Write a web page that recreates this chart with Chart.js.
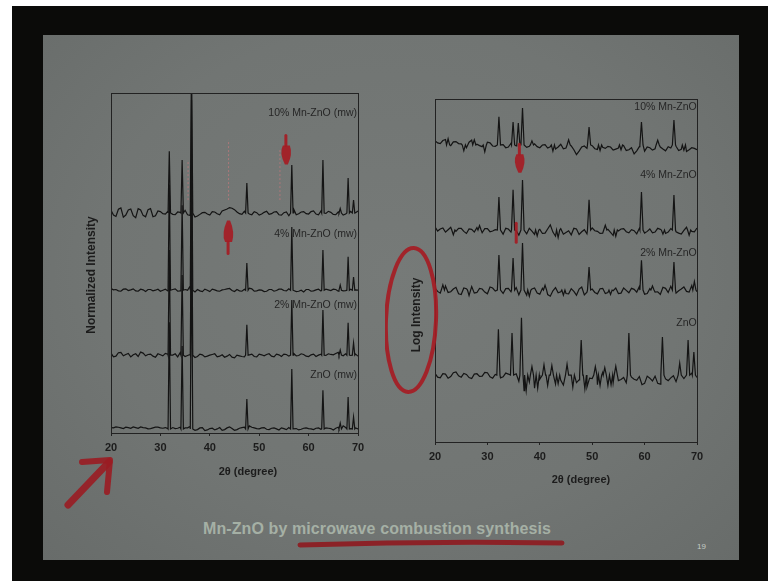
<!DOCTYPE html>
<html><head><meta charset="utf-8">
<script src="https://cdn.jsdelivr.net/npm/chart.js@4.4.1/dist/chart.umd.min.js"></script>
<style>
html,body{margin:0;padding:0;background:#fff;width:768px;height:581px;overflow:hidden;}
#frame{position:absolute;left:12px;top:6px;width:756px;height:575px;background:#0b0b09;}
#slide{position:absolute;left:43px;top:35px;width:696px;height:525px;
  background:radial-gradient(ellipse at 50% 45%, #767a78 0%, #717573 60%, #686c6a 100%);}
#c1{position:absolute;left:60px;top:85px;}
#c2{position:absolute;left:385px;top:90px;}
#footer{position:absolute;left:203px;top:520px;font:bold 16px "Liberation Sans",Arial,sans-serif;color:#a5b0a5;white-space:nowrap;letter-spacing:0.1px;}
#pnum{position:absolute;left:697px;top:542px;font:8px "Liberation Sans",Arial,sans-serif;color:#c5ccc5;}
#deco{position:absolute;left:0;top:0;pointer-events:none;}
</style>
</head>
<body>
<div id="frame"></div>
<div id="slide"></div>
<canvas id="c1" width="315" height="405"></canvas>
<canvas id="c2" width="330" height="410"></canvas>
<div id="footer">Mn-ZnO by microwave combustion synthesis</div>
<div id="pnum">19</div>
<svg id="deco" width="768" height="581">
  <path d="M68 505 L109 462" stroke="#9a1c22" stroke-width="7" stroke-linecap="round" fill="none" opacity="0.9"/>
  <path d="M82 462 L110 460 L107 492" stroke="#9a1c22" stroke-width="6" stroke-linecap="round" stroke-linejoin="round" fill="none" opacity="0.9"/>
  <path d="M300 545 Q430 541 562 543" stroke="#8e1a1f" stroke-width="5" stroke-linecap="round" fill="none" opacity="0.9"/>
</svg>
<script>
// ---------- baseline grids (2θ, degrees) ----------
const gridX  = [20,21,22,23,24,25,26,27,28,29,30,31,32,33,34,35,36,37,38,39,40,41,42,43,44,45,46,47,48,49,50,51,52,53,54,55,56,57,58,59,60,61,62,63,64,65,66,67,68,69,70];
const gridXh = [20.5,21.5,22.5,23.5,24.5,25.5,26.5,27.5,28.5,29.5,30.5,31.5,32.5,33.5,34.5,35.5,36.5,37.5,38.5,39.5,40.5,41.5,42.5,43.5,44.5,45.5,46.5,47.5,48.5,49.5,50.5,51.5,52.5,53.5,54.5,55.5,56.5,57.5,58.5,59.5,60.5,61.5,62.5,63.5,64.5,65.5,66.5,67.5,68.5,69.5];
const xTicks = [20,30,40,50,60,70];

// ---------- LEFT: Normalized Intensity ----------
const leftLabels = ['ZnO (mw)','2% Mn-ZnO (mw)','4% Mn-ZnO (mw)','10% Mn-ZnO (mw)'];
const leftLabelY = [17, 37.6, 58.5, 94.1];
const leftPeakPos = [31.8,34.4,36.3,47.5,56.6,62.9,66.4,68.0,69.1];
const leftLevels = [1.2, 22.9, 42.0, 64.7];
const leftZnO_h = [31.4,24.4,55.6,8.8,17.6,11.4,1.7,9.4,3.5];
const left2_h   = [30.9,23.6,54.5,8.9,16.2,13.3,1.5,9.5,3.6];
const left4_h   = [31.0,25.0,56.0,8.0,18.6,11.8,1.5,9.8,3.9];
const left10_h  = [18.2,15.6,45.0,8.8,14.1,15.6,1.3,10.3,3.8];
const leftZnO_n = [0.4,0.6,0.3,0.5,0.2,0.4,0.6,0.3,0.1,0.5,0.3,0.4,0.2,0.1,0.5,0.3,0.7,-0.4,0.3,-0.5,0.1,-0.3,0.4,-0.2,0.6,-0.4,0.2,0.5,0.9,0.3,0.0,0.4,-0.2,0.3,-0.3,0.1,0.4,0.0,-0.3,0.2,0.1,-0.2,0.3,0.0,0.2,-0.3,0.5,0.9,0.2,0.4,0.0];
const leftZnO_nh = [0.3,0.5,0.1,0.4,0.6,0.2,0.4,0.0,0.3,0.5,0.2,0.1,0.4,0.2,-0.1,0.3,0.0,-0.2,0.4,-0.3,0.2,0.0,-0.4,0.3,0.1,-0.2,0.4,0.6,0.5,0.1,0.3,-0.1,0.2,0.0,0.3,-0.2,0.2,0.1,-0.1,0.3,0.0,0.2,-0.1,0.3,0.1,0.2,0.6,0.4,0.1,0.3];
const left2_n   = [0.6,-0.3,0.8,0.2,-0.5,0.4,0.9,-0.2,0.3,-0.6,0.1,0.5,-0.3,0.4,0.7,-0.4,0.2,-0.7,0.3,-0.5,0.0,0.4,-0.3,-0.6,0.2,-0.8,-0.2,-0.5,0.1,-0.4,0.3,-0.2,0.4,-0.5,0.1,0.3,-0.3,0.5,-0.1,0.2,-0.4,0.3,0.0,-0.3,0.4,0.1,0.8,-0.2,0.5,0.2,-0.3];
const left2_nh  = [-0.5,0.7,-0.2,0.5,0.1,-0.4,0.6,0.2,-0.3,0.4,-0.2,0.3,0.0,-0.5,0.3,-0.1,0.4,-0.4,0.1,-0.3,0.2,-0.5,0.1,-0.3,-0.6,0.0,-0.4,-0.2,0.3,-0.5,0.1,0.2,-0.3,0.3,-0.4,0.2,0.0,-0.2,0.4,-0.3,0.1,-0.4,0.3,-0.1,0.2,0.5,-0.3,0.4,-0.1,0.3];
const left4_n   = [0.5,0.2,-0.3,0.4,0.1,-0.2,0.3,-0.4,0.2,0.0,-0.3,0.3,-0.1,0.4,-0.2,0.2,1.2,-0.5,-0.2,0.3,-0.4,0.1,-0.3,0.2,0.5,-0.4,-0.2,0.3,0.6,-0.3,0.1,-0.4,0.2,-0.3,0.3,-0.1,0.4,0.0,-0.3,-0.5,0.2,-0.2,0.3,-0.4,0.1,0.3,-0.3,-0.2,0.5,0.2,0.0];
const left4_nh  = [0.1,-0.2,0.3,-0.1,0.4,-0.3,0.1,0.2,-0.2,0.3,0.0,-0.2,0.2,-0.3,0.1,0.0,-0.3,0.2,-0.4,0.0,0.3,-0.2,0.1,0.4,-0.1,0.2,-0.3,0.1,0.4,-0.2,0.0,-0.3,0.2,-0.1,0.3,-0.2,0.1,-0.4,0.0,0.2,-0.3,0.1,-0.2,0.3,-0.1,0.2,0.4,-0.1,0.3,0.1];
const left10_n  = [0.8,-1.0,1.5,-0.6,1.2,-1.4,0.9,-1.1,1.3,-0.8,0.4,-0.3,0.6,-0.5,0.2,0.8,-0.7,-1.2,-0.4,0.2,-0.6,0.3,-0.5,0.9,1.6,1.0,-0.2,0.5,-0.3,0.4,-0.6,0.2,-0.4,0.3,-0.5,0.1,-0.8,1.1,-0.2,0.4,-0.3,0.6,-0.5,0.2,0.5,-0.4,0.3,-0.6,0.4,-0.2,0.6];
const left10_nh = [-0.6,1.1,-1.2,0.9,-0.8,1.3,-0.7,1.0,-1.1,0.6,-0.2,0.5,-0.4,0.3,-0.3,-0.5,0.6,-0.9,0.1,-0.3,0.4,-0.2,0.6,1.2,1.4,0.3,-0.4,0.2,-0.5,0.1,-0.3,0.5,-0.2,0.4,-0.6,0.3,0.8,-0.5,0.3,-0.2,0.4,-0.3,0.6,-0.1,0.2,-0.5,0.4,-0.3,0.5,0.1];
// dotted reference markers (Mn oxide positions)
const leftMarkX = [35.6, 43.8, 54.2];
const leftMarkTop = [80.3, 86.2, 83.2];
const leftMarkBottom = [68.5, 68.5, 68.5];

// ---------- RIGHT: Log Intensity ----------
const rightLabels = ['ZnO','2% Mn-ZnO','4% Mn-ZnO','10% Mn-ZnO'];
const rightLabelY = [34.7, 55.1, 77.8, 97.7];
const rightLevels = [19.5, 44.3, 61.8, 86.6];
const rZnO_pos = [32.1,34.7,36.5,37.4,38.5,39.6,40.8,41.5,42.3,43.5,45.2,46.3,47.9,48.6,50.6,51.5,52.4,53.6,54.5,57.0,63.4,66.7,68.3,69.4];
const rZnO_h   = [13.4,12.3,16.7,-4.5,2.5,-3.8,3.0,-3.0,2.8,-2.5,3.2,-3.5,10.2,-4.0,2.5,-3.0,2.2,-2.8,2.6,12.3,11.1,3.5,10.2,6.7];
const r2_pos   = [21.5,26.5,32.2,34.9,36.7,38.0,41.0,44.5,49.4,53.5,59.4,61.5,65.6,69.5];
const r2_h     = [1.5,-1.6,10.2,9.3,13.7,-1.8,1.4,-1.5,6.7,-1.3,8.7,1.2,8.2,2.5];
const r4_pos   = [23.5,28.5,32.2,34.9,36.7,39.5,43.5,49.4,52.5,54.5,59.4,63.5,65.6,68.5];
const r4_h     = [-1.4,1.3,9.6,11.7,14.6,-1.7,-2.2,8.8,1.4,-1.8,11.1,-1.2,10.2,-1.5];
const r10_pos  = [22.5,25.5,27.5,29.5,32.2,34.9,35.9,36.7,38.5,42.5,45.5,49.4,51.5,55.5,59.4,62.5,65.6,67.5];
const r10_h    = [1.8,-1.7,1.5,-2.0,8.2,6.7,6.4,10.8,1.2,-1.8,1.5,5.2,-1.6,-1.4,6.7,1.4,7.3,-1.5];
const rZnO_n  = [0.5,-0.8,0.3,-0.4,0.9,-0.6,0.2,-1.0,0.4,-0.3,0.7,-0.9,0.1,-0.5,0.3,1.2,-1.8,-4.5,-2.0,-3.8,-1.2,-3.2,0.5,-2.6,-1.5,-3.9,-0.8,-2.2,1.0,-3.5,-1.0,-2.8,0.8,-3.0,-2.2,-1.6,-0.7,-2.1,-1.2,-0.4,-2.4,-0.9,-0.3,-2.6,-1.1,-0.8,-1.9,-0.4,-2.3,0.6,-0.7];
const rZnO_nh = [-0.6,0.4,-0.9,0.7,-0.2,0.5,-0.7,0.3,-0.4,0.8,-0.5,0.2,-0.8,0.6,-0.3,0.4,-1.2,-3.1,-0.6,-4.2,-2.4,-0.5,-3.6,-1.8,-2.9,0.2,-3.3,-1.4,-2.5,-0.9,-3.7,-1.6,-2.0,-0.4,-3.1,-1.3,-2.2,-0.6,-1.5,-2.8,-0.3,-1.7,-2.4,-0.5,-1.6,-0.2,-2.0,-1.0,0.4,-1.3];
const r2_n    = [0.6,-0.9,1.2,-0.5,0.8,-1.3,0.4,1.0,-0.7,0.3,-1.1,0.6,-0.4,-1.0,0.5,0.9,-1.4,0.4,-0.8,0.6,-1.2,-0.3,-1.8,0.7,-0.5,-1.0,0.4,-1.5,0.9,-0.6,0.3,-1.1,0.5,-0.7,-0.2,-1.0,0.6,-0.8,0.2,1.0,-1.2,0.4,-0.6,-1.3,0.5,1.1,-0.9,0.3,-0.4,1.3,-0.5];
const r2_nh   = [-0.4,0.8,-0.7,0.3,-1.1,0.6,-0.2,-0.9,0.5,-0.6,0.9,-0.3,-1.2,0.4,-0.5,0.7,-0.8,-1.5,0.3,-0.9,0.5,-1.3,-0.2,-0.8,0.6,-1.1,-0.4,0.3,-1.4,0.2,-0.7,0.4,-1.0,-0.3,0.6,-0.9,-0.1,0.5,-0.6,0.3,-1.0,0.2,-0.5,0.8,-0.7,0.4,-0.2,0.9,-0.6,0.5];
const r4_n    = [0.9,0.3,-0.6,0.8,-0.4,0.5,-1.0,0.2,0.7,-0.8,0.4,-0.3,0.6,-1.2,0.3,0.8,-1.5,-0.6,0.5,-1.3,0.2,-0.9,1.5,-1.8,0.4,-0.7,-1.4,0.3,-0.5,-1.1,0.6,-0.4,-0.9,0.2,-1.6,-0.3,0.4,-0.8,-0.2,0.5,-0.9,0.3,-0.6,0.2,-1.0,0.4,-0.5,-1.2,0.8,-0.4,0.6];
const r4_nh   = [-0.3,0.6,0.1,-0.7,0.5,-0.4,0.3,-0.6,0.2,0.4,-0.5,0.1,-0.8,0.5,-0.6,-0.2,0.4,-1.1,-0.3,0.6,-1.0,0.3,-0.6,0.9,-1.2,-0.2,0.5,-1.3,0.1,-0.6,-0.2,-1.0,0.4,-0.7,-0.9,0.3,-0.5,0.1,-1.1,0.2,-0.4,-0.8,0.5,-0.3,-0.6,0.3,-0.9,-0.1,0.4,-0.5];
const r10_n   = [1.2,0.4,1.6,-0.2,1.0,0.3,-0.8,1.4,0.2,-0.5,0.8,-0.3,0.5,0.1,-0.6,0.2,-0.9,0.4,-0.4,0.3,-0.8,0.1,-0.5,-1.2,0.2,-0.9,-0.3,-2.8,-0.6,-1.0,-0.2,-1.3,-0.7,-0.4,-1.5,-0.9,-0.2,-1.4,-2.6,-0.5,-1.8,-0.8,-1.1,-0.6,-1.7,-0.9,-0.4,-1.3,-1.9,-0.8,-1.4];
const r10_nh  = [0.6,1.3,-0.3,0.9,0.4,-0.6,0.8,0.5,-0.2,0.3,0.6,-0.4,0.2,-0.8,0.5,-0.3,0.1,-0.7,0.5,-0.5,0.0,-0.9,0.3,-0.6,-1.1,0.1,-1.4,-1.8,-0.3,-0.7,-1.1,-0.2,-1.0,-0.6,-1.2,-0.4,-1.6,-0.8,-1.7,-1.3,-0.6,-1.5,-0.9,-1.2,-0.5,-1.1,-1.6,-0.7,-1.4,-1.0];

// ---------- helpers ----------
function buildSeries(level, noise, noiseH, pos, h, halfW) {
  const pts = [];
  const near = x => pos.some(p => Math.abs(x - p) <= halfW + 1e-6);
  gridX.forEach((x, i) => { if (!near(x)) pts.push({x: x, y: level + noise[i]}); });
  gridXh.forEach((x, i) => { if (!near(x)) pts.push({x: x, y: level + noiseH[i]}); });
  pos.forEach((p, i) => {
    pts.push({x: p - halfW, y: level}, {x: p, y: level + h[i]}, {x: p + halfW, y: level});
  });
  return pts.sort((a, b) => a.x - b.x);
}
function markerData(xs, tops, bottoms) {
  const d = [];
  xs.forEach((x, i) => { d.push({x: x, y: bottoms[i]}, {x: x, y: tops[i]}, {x: x, y: null}); });
  return d;
}
const FONT = '"Liberation Sans", Arial, sans-serif';
const INK = '#1c1c1c';
const RED = 'rgba(165,28,36,0.92)';

const decor = {
  id: 'decor',
  afterDatasetsDraw(chart, args, o) {
    const {ctx, chartArea: a, scales: {x, y}} = chart;
    ctx.save();
    ctx.strokeStyle = '#222'; ctx.lineWidth = 1;
    ctx.strokeRect(Math.round(a.left) + 0.5, Math.round(a.top) + 0.5, Math.round(a.right - a.left), Math.round(a.bottom - a.top));
    ctx.fillStyle = '#262626'; ctx.font = '10.5px ' + FONT;
    ctx.textAlign = 'right'; ctx.textBaseline = 'middle';
    o.labels.forEach((t, i) => ctx.fillText(t, x.getPixelForValue(o.labelX), y.getPixelForValue(o.labelY[i])));
    ctx.fillStyle = INK; ctx.font = 'bold 11px ' + FONT; ctx.textAlign = 'center';
    ctx.fillText('2\u03B8 (degree)', a.left + o.xTitle[0], a.bottom + o.xTitle[1]);
    ctx.save();
    ctx.font = 'bold 12px ' + FONT;
    ctx.translate(a.left + o.yTitle[0], a.top + o.yTitle[1]);
    ctx.rotate(-Math.PI / 2);
    ctx.fillText(o.yTitleText, 0, 0);
    ctx.restore();
    // hand-drawn red annotations
    ctx.fillStyle = RED; ctx.strokeStyle = RED; ctx.lineCap = 'round';
    (o.arrows || []).forEach(ar => {
      const px = x.getPixelForValue(ar.x);
      const pt = y.getPixelForValue(ar.tail), ph = y.getPixelForValue(ar.head);
      const len = ph - pt;
      const mid = pt + len * 0.35;
      ctx.lineWidth = 3;
      ctx.beginPath(); ctx.moveTo(px, pt); ctx.lineTo(px, mid); ctx.stroke();
      ctx.beginPath();
      ctx.moveTo(px - 3, mid);
      ctx.quadraticCurveTo(px - 7, mid + len * 0.25, px - 1, ph);
      ctx.lineTo(px + 2, ph);
      ctx.quadraticCurveTo(px + 7, mid + len * 0.3, px + 4, mid);
      ctx.closePath(); ctx.fill();
    });
    (o.strokes || []).forEach(s => {
      ctx.lineWidth = s.w;
      ctx.beginPath();
      ctx.moveTo(x.getPixelForValue(s.x), y.getPixelForValue(s.y1));
      ctx.lineTo(x.getPixelForValue(s.x), y.getPixelForValue(s.y2));
      ctx.stroke();
    });
    if (o.ellipse) {
      ctx.lineWidth = 4;
      ctx.beginPath();
      ctx.ellipse(a.left + o.ellipse[0], a.top + o.ellipse[1], o.ellipse[2], o.ellipse[3], 0.04, 0, Math.PI * 2);
      ctx.stroke();
    }
    ctx.restore();
  }
};

function makeChart(id, datasets, yWidth, xHeight, padding, deco) {
  return new Chart(document.getElementById(id), {
    type: 'line',
    data: {datasets: datasets},
    plugins: [decor],
    options: {
      responsive: false, animation: false, devicePixelRatio: 1,
      layout: {padding: padding},
      plugins: {legend: {display: false}, tooltip: {enabled: false}, decor: deco},
      elements: {point: {radius: 0}, line: {tension: 0, borderWidth: 1}},
      scales: {
        x: {
          type: 'linear', min: 20, max: 70,
          afterBuildTicks: s => { s.ticks = xTicks.map(v => ({value: v})); },
          afterFit: s => { s.height = xHeight; },
          ticks: {color: INK, font: {family: FONT, size: 11, weight: 'bold'}, padding: 5, maxRotation: 0},
          grid: {display: true, drawOnChartArea: false, drawTicks: true, tickLength: 3, color: '#222'},
          border: {display: false}
        },
        y: {
          type: 'linear', min: 0, max: 100,
          afterFit: s => { s.width = yWidth; },
          ticks: {display: false},
          grid: {display: false},
          border: {display: false}
        }
      }
    }
  });
}

const lineStyle = {borderColor: '#141414', borderWidth: 1.2, pointRadius: 0, fill: false, spanGaps: false};

makeChart('c1', [
  Object.assign({label: leftLabels[0], data: buildSeries(leftLevels[0], leftZnO_n, leftZnO_nh, leftPeakPos, leftZnO_h, 0.25)}, lineStyle),
  Object.assign({label: leftLabels[1], data: buildSeries(leftLevels[1], left2_n, left2_nh, leftPeakPos, left2_h, 0.25)}, lineStyle),
  Object.assign({label: leftLabels[2], data: buildSeries(leftLevels[2], left4_n, left4_nh, leftPeakPos, left4_h, 0.25)}, lineStyle),
  Object.assign({label: leftLabels[3], data: buildSeries(leftLevels[3], left10_n, left10_nh, leftPeakPos, left10_h, 0.25)}, lineStyle),
  {label: 'markers', data: markerData(leftMarkX, leftMarkTop, leftMarkBottom), borderColor: 'rgba(210,120,125,0.6)', borderWidth: 1, borderDash: [2, 2], pointRadius: 0, spanGaps: false}
], 51, 57, {left: 0, right: 17, top: 8, bottom: 0}, {
  labels: leftLabels, labelY: leftLabelY, labelX: 69.8,
  xTitle: [137, 39], yTitle: [-19, 182], yTitleText: 'Normalized Intensity',
  arrows: [{x: 55.4, tail: 87.5, head: 79.0}, {x: 43.7, tail: 52.8, head: 62.5}]
});

makeChart('c2', [
  Object.assign({label: rightLabels[0], data: buildSeries(rightLevels[0], rZnO_n, rZnO_nh, rZnO_pos, rZnO_h, 0.3)}, lineStyle),
  Object.assign({label: rightLabels[1], data: buildSeries(rightLevels[1], r2_n, r2_nh, r2_pos, r2_h, 0.3)}, lineStyle),
  Object.assign({label: rightLabels[2], data: buildSeries(rightLevels[2], r4_n, r4_nh, r4_pos, r4_h, 0.3)}, lineStyle),
  Object.assign({label: rightLabels[3], data: buildSeries(rightLevels[3], r10_n, r10_nh, r10_pos, r10_h, 0.3)}, lineStyle)
], 50, 58, {left: 0, right: 18, top: 9, bottom: 0}, {
  labels: rightLabels, labelY: rightLabelY, labelX: 69.95,
  xTitle: [146, 38], yTitle: [-18, 216], yTitleText: 'Log Intensity',
  arrows: [{x: 36.1, tail: 86.8, head: 78.5}],
  strokes: [{x: 35.5, y1: 63.8, y2: 58.2, w: 3}],
  ellipse: [-24, 221, 25, 72]
});
</script>
</body></html>
